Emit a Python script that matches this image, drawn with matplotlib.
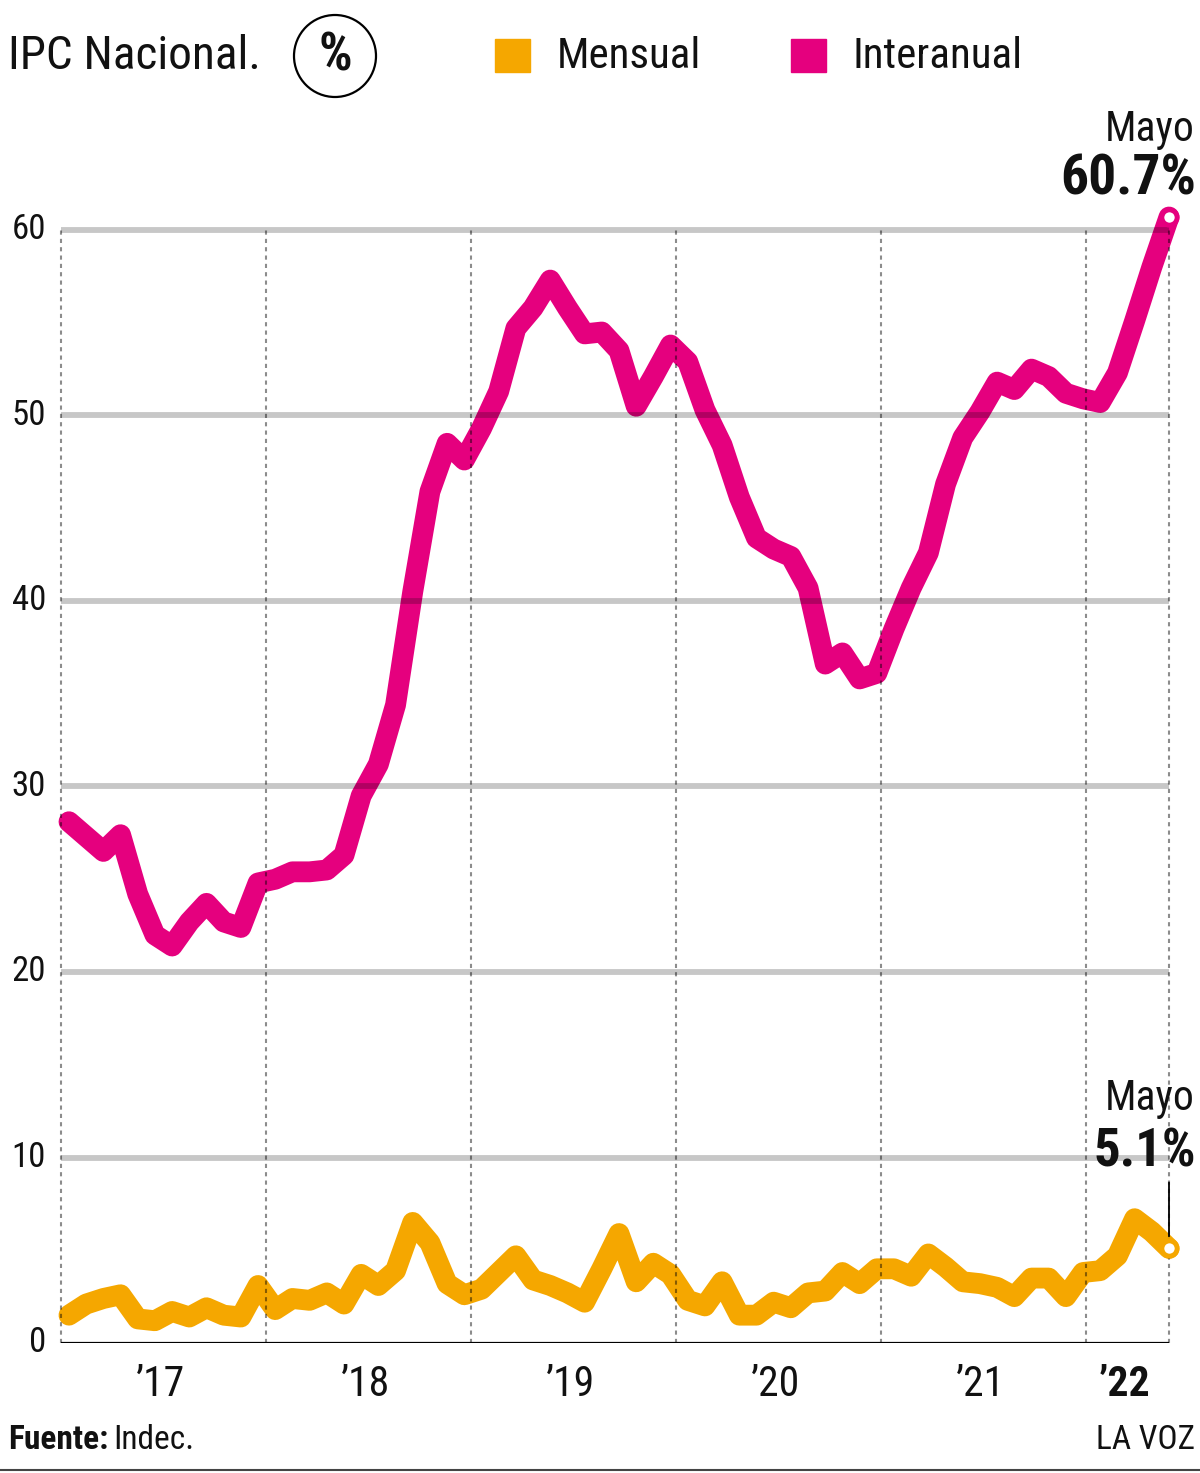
import numpy as np
import matplotlib
matplotlib.use("Agg")
import matplotlib.pyplot as plt
from matplotlib.patches import Circle, Rectangle
from matplotlib.transforms import IdentityTransform

plt.rcParams['font.family'] = ['Roboto Condensed', 'Liberation Sans Narrow', 'DejaVu Sans']

# ---------------- data ----------------
years = ["’17", "’18", "’19", "’20", "’21", "’22"]
months = [f"{y}-{m:02d}" for y in range(2017, 2023) for m in range(1, 13)][:65]

interanual_2017 = [28.1, 27.3, 26.5, 27.4, 24.2, 22.0, 21.4, 22.7, 23.7, 22.7, 22.4, 24.8]
interanual_2018 = [25.0, 25.4, 25.4, 25.5, 26.3, 29.5, 31.2, 34.4, 40.5, 45.9, 48.5, 47.6]
interanual_2019 = [49.3, 51.3, 54.7, 55.8, 57.3, 55.8, 54.4, 54.5, 53.5, 50.5, 52.1, 53.8]
interanual_2020 = [52.9, 50.3, 48.4, 45.6, 43.4, 42.8, 42.4, 40.7, 36.6, 37.2, 35.8, 36.1]
interanual_2021 = [38.5, 40.7, 42.6, 46.3, 48.8, 50.2, 51.8, 51.4, 52.5, 52.1, 51.2, 50.9]
interanual_2022 = [50.7, 52.3, 55.1, 58.0, 60.7]

mensual_2017 = [1.5, 2.1, 2.4, 2.6, 1.3, 1.2, 1.7, 1.4, 1.9, 1.5, 1.4, 3.1]
mensual_2018 = [1.8, 2.4, 2.3, 2.7, 2.1, 3.7, 3.1, 3.9, 6.5, 5.4, 3.2, 2.6]
mensual_2019 = [2.9, 3.8, 4.7, 3.4, 3.1, 2.7, 2.2, 4.0, 5.9, 3.3, 4.3, 3.7]
mensual_2020 = [2.3, 2.0, 3.3, 1.5, 1.5, 2.2, 1.9, 2.7, 2.8, 3.8, 3.2, 4.0]
mensual_2021 = [4.0, 3.6, 4.8, 4.1, 3.3, 3.2, 3.0, 2.5, 3.5, 3.5, 2.5, 3.8]
mensual_2022 = [3.9, 4.7, 6.7, 6.0, 5.1]

interanual = (interanual_2017 + interanual_2018 + interanual_2019 +
              interanual_2020 + interanual_2021 + interanual_2022)
mensual = (mensual_2017 + mensual_2018 + mensual_2019 +
           mensual_2020 + mensual_2021 + mensual_2022)

y_ticks = [0, 10, 20, 30, 40, 50, 60]

# ---------------- styles ----------------
PINK = "#E5007E"
ORANGE = "#F5A700"
W, H = 1200, 1473

fig = plt.figure(figsize=(W / 100, H / 100), dpi=100)
ax_left, ax_right, ax_bottom = 61, 1169, 1343
ymax = 61.5
ppu = 18.55
ax = fig.add_axes([ax_left / W, (H - ax_bottom) / H, (ax_right - ax_left) / W, ymax * ppu / H])

x = np.arange(len(months))
x0 = -0.465
ax.set_xlim(x0, x[-1])
ax.set_ylim(0, ymax)
for s in ax.spines.values():
    s.set_visible(False)
ax.set_xticks([])
ax.set_yticks([])

# data lines
LW = 15
ax.plot(x, interanual, color=PINK, lw=LW, solid_capstyle='round', solid_joinstyle='round',
        clip_on=False, zorder=3)
ax.plot(x, mensual, color=ORANGE, lw=LW, solid_capstyle='round', solid_joinstyle='round',
        clip_on=False, zorder=3)

# horizontal gridlines (drawn over data, semi transparent)
for t in y_ticks[1:]:
    ax.axhline(t, color='black', alpha=0.22, lw=4.2, zorder=4)
ax.axhline(0, color='black', lw=1.6, zorder=5)

# vertical dashed year separators
year_span = 11.925
seps = [x0 + k * year_span for k in range(len(years))] + [x[-1]]
for sx in seps:
    ax.plot([sx, sx], [0, y_ticks[-1]], color='black', alpha=0.45, lw=1.5,
            dashes=(2, 2), zorder=4, clip_on=False)

# end markers
ax.plot(x[-1], interanual[-1], 'o', ms=11, mfc='white', mec=PINK, mew=3.5, zorder=7, clip_on=False)
ax.plot(x[-1], mensual[-1], 'o', ms=11, mfc='white', mec=ORANGE, mew=3.5, zorder=7, clip_on=False)

# y tick labels
for t in y_ticks:
    ax.annotate(str(t), xy=(0, t), xycoords=('axes fraction', 'data'),
                xytext=(-15, 0), textcoords='offset pixels',
                ha='right', va='center', fontsize=25, color='#111111')

# year labels
for k, lab in enumerate(years):
    left = seps[k]
    right = seps[k + 1]
    ax.annotate(lab, xy=((left + right) / 2, 0), xycoords='data',
                xytext=(-3, -42), textcoords='offset pixels', ha='center', va='center',
                fontsize=30, color='#111111',
                fontweight='bold' if k == len(years) - 1 else 'normal')

# end annotations
ax.annotate("Mayo", xy=(x[-1], interanual[-1]), xytext=(26, 88), textcoords='offset pixels',
            ha='right', va='center', fontsize=30, color='#111111', zorder=8)
ax.annotate(f"{interanual[-1]:.1f}%", xy=(x[-1], interanual[-1]), xytext=(27, 38),
            textcoords='offset pixels', ha='right', va='center', fontsize=40,
            fontweight='bold', color='#111111', zorder=8)

ax.annotate("Mayo", xy=(x[-1], mensual[-1]), xytext=(26, 150), textcoords='offset pixels',
            ha='right', va='center', fontsize=30, color='#111111', zorder=8)
ax.annotate(f"{mensual[-1]:.1f}%", xy=(x[-1], mensual[-1]), xytext=(27, 96),
            textcoords='offset pixels', ha='right', va='center', fontsize=38,
            fontweight='bold', color='#111111', zorder=8)
ax.annotate("", xy=(x[-1], mensual[-1] + 0.5), xytext=(x[-1], mensual[-1] + 3.7),
            arrowprops=dict(arrowstyle='-', color='black', lw=1.3), zorder=6)

# ---------------- header ----------------
def fy(py):
    return 1 - py / H

fig.text(8 / W, fy(56), "IPC Nacional.", ha='left', va='center', fontsize=34, color='#111111')
fig.patches.append(Circle((335, H - 56), 41, transform=IdentityTransform(),
                          fill=False, ec='black', lw=1.6, figure=fig))
fig.text(335 / W, fy(56), "%", ha='center', va='center', fontsize=38,
         fontweight='bold', color='#111111')

fig.patches.append(Rectangle((495, H - 72), 35, 33, transform=IdentityTransform(),
                             color=ORANGE, figure=fig))
fig.text(557 / W, fy(56), "Mensual", ha='left', va='center', fontsize=31, color='#111111')
fig.patches.append(Rectangle((791, H - 72), 35, 33, transform=IdentityTransform(),
                             color=PINK, figure=fig))
fig.text(853 / W, fy(56), "Interanual", ha='left', va='center', fontsize=31, color='#111111')

# ---------------- footer ----------------
t1 = fig.text(8 / W, fy(1440), "Fuente:", ha='left', va='center', fontsize=24,
              fontweight='bold', color='#111111')
fig.canvas.draw()
bb = t1.get_window_extent()
fig.text((bb.x1 + 5) / W, fy(1440), "Indec.", ha='left', va='center', fontsize=24,
         color='#111111')
fig.text(1195 / W, fy(1440), "LA VOZ", ha='right', va='center', fontsize=24, color='#111111')
fig.add_artist(plt.Line2D([0, 1], [fy(1470), fy(1470)], color='#444444', lw=1.5,
                          transform=fig.transFigure))

fig.savefig("out.png", dpi=100)
